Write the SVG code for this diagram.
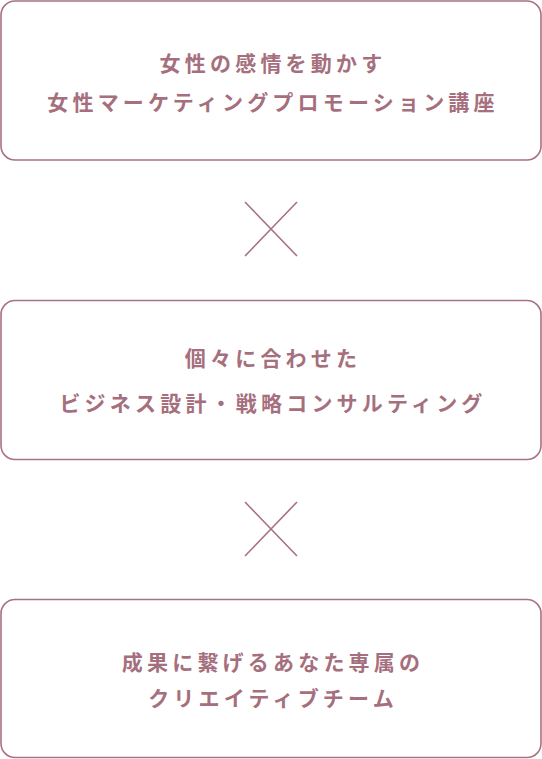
<svg xmlns="http://www.w3.org/2000/svg" width="542" height="759" viewBox="0 0 542 759">
<style>
.box{fill:#fff;stroke:#a8727f;stroke-width:1.6}
.t{font-family:"Noto Sans CJK JP","Noto Sans",sans-serif;font-weight:700;font-size:21px;letter-spacing:4.2px;fill:#a66f7d;text-anchor:middle}
.x{stroke:#a8727f;stroke-width:1.6;fill:none}
</style>
<rect width="542" height="759" fill="#fff"/>
<g id="node1">
<rect class="box" x="1" y="1" width="540" height="159" rx="14"/>
<text class="t" x="273" y="70.5">女性の感情を動かす</text>
<text class="t" x="273" y="110">女性マーケティングプロモーション講座</text>
</g>
<g id="node2">
<rect class="box" x="1" y="300.5" width="540" height="159" rx="14"/>
<text class="t" x="273" y="365.5">個々に合わせた</text>
<text class="t" x="273" y="410.5">ビジネス設計・戦略コンサルティング</text>
</g>
<g id="node3">
<rect class="box" x="1" y="599.5" width="540" height="158" rx="14"/>
<text class="t" x="273" y="669.5">成果に繋げるあなた専属の</text>
<text class="t" x="273" y="705.5">クリエイティブチーム</text>
</g>
<g id="connectors">
<path class="x" d="M245 202L297 256M297 202L245 256"/>
<path class="x" d="M245 502L297 556M297 502L245 556"/>
</g>
</svg>
